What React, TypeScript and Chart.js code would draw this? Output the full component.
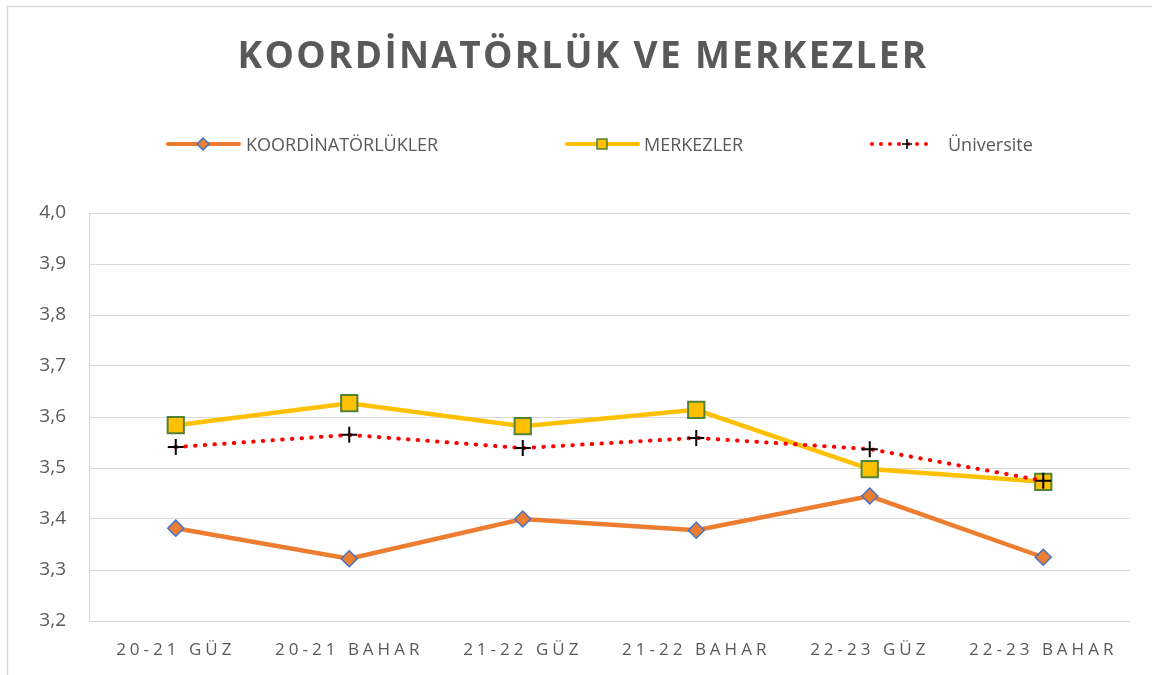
import React, { useEffect, useRef } from 'react';
import { Chart, registerables } from 'chart.js';

Chart.register(...registerables);

const TITLE = 'KOORDİNATÖRLÜK VE MERKEZLER';
const categories = ['20-21 GÜZ', '20-21 BAHAR', '21-22 GÜZ', '21-22 BAHAR', '22-23 GÜZ', '22-23 BAHAR'];
const koordinatorlukler = [3.382, 3.322, 3.4, 3.378, 3.445, 3.325];
const merkezler = [3.584, 3.627, 3.582, 3.614, 3.498, 3.473];
const universite = [3.541, 3.565, 3.539, 3.559, 3.537, 3.475];
const seriesLabels = ['KOORDİNATÖRLÜKLER', 'MERKEZLER', 'Üniversite'];
const yMin = 3.2;
const yMax = 4.0;
const yStep = 0.1;

const TEXT = '#595959';
const GRID = '#d9d9d9';
const ORANGE = '#ED7D31';
const BLUE = '#4472C4';
const GOLD = '#FFC000';
const GREEN = '#548235';
const RED = '#FF0000';

const decorPlugin = {
  id: 'decor',
  beforeDraw(chart: any) {
    const ctx = chart.ctx as CanvasRenderingContext2D;
    ctx.save();
    ctx.fillStyle = '#ffffff';
    ctx.fillRect(0, 0, chart.width, chart.height);
    // outer frame (top + left visible)
    ctx.strokeStyle = GRID;
    ctx.lineWidth = 1.3;
    ctx.beginPath();
    ctx.moveTo(7.5, chart.height);
    ctx.lineTo(7.5, 6.5);
    ctx.lineTo(chart.width, 6.5);
    ctx.stroke();
    ctx.restore();
  },
  afterDraw(chart: any) {
    const ctx = chart.ctx as CanvasRenderingContext2D;
    ctx.save();
    // title
    ctx.fillStyle = TEXT;
    ctx.font = 'bold 37px "Open Sans"';
    (ctx as any).letterSpacing = '2.3px';
    ctx.textAlign = 'center';
    ctx.textBaseline = 'alphabetic';
    ctx.fillText(TITLE, 583, 68);

    // x labels
    const xs = chart.scales.x;
    ctx.font = '17px "Open Sans"';
    (ctx as any).letterSpacing = '4px';
    ctx.textAlign = 'center';
    categories.forEach((c, i) => {
      ctx.fillText(c, xs.getPixelForTick(i), 655);
    });

    // legend
    (ctx as any).letterSpacing = '0px';
    ctx.font = '18px "Open Sans"';
    ctx.textAlign = 'left';
    const ly = 144;
    // KOORD
    ctx.lineCap = 'round';
    ctx.strokeStyle = ORANGE;
    ctx.lineWidth = 4;
    ctx.beginPath();
    ctx.moveTo(168, ly);
    ctx.lineTo(239, ly);
    ctx.stroke();
    ctx.fillStyle = ORANGE;
    ctx.strokeStyle = BLUE;
    ctx.lineWidth = 1.5;
    ctx.beginPath();
    ctx.moveTo(203, ly - 6);
    ctx.lineTo(209, ly);
    ctx.lineTo(203, ly + 6);
    ctx.lineTo(197, ly);
    ctx.closePath();
    ctx.fill();
    ctx.stroke();
    ctx.fillStyle = TEXT;
    ctx.fillText(seriesLabels[0], 246, ly + 6.5);

    // MERKEZLER
    ctx.strokeStyle = GOLD;
    ctx.lineWidth = 4;
    ctx.beginPath();
    ctx.moveTo(567, ly);
    ctx.lineTo(638, ly);
    ctx.stroke();
    ctx.fillStyle = GOLD;
    ctx.strokeStyle = GREEN;
    ctx.lineWidth = 1.5;
    ctx.fillRect(597, ly - 5, 10, 10);
    ctx.strokeRect(597, ly - 5, 10, 10);
    ctx.fillStyle = TEXT;
    ctx.fillText(seriesLabels[1], 644, ly + 6.5);

    // Üniversite
    ctx.fillStyle = RED;
    for (let x = 872; x <= 933; x += 9) {
      ctx.beginPath();
      ctx.arc(x, ly, 2, 0, Math.PI * 2);
      ctx.fill();
    }
    ctx.strokeStyle = '#000000';
    ctx.lineWidth = 1.6;
    ctx.lineCap = 'butt';
    ctx.beginPath();
    ctx.moveTo(902, ly);
    ctx.lineTo(912, ly);
    ctx.moveTo(907, ly - 5);
    ctx.lineTo(907, ly + 5);
    ctx.stroke();
    ctx.fillStyle = TEXT;
    ctx.fillText(seriesLabels[2], 948, ly + 6.5);
    ctx.restore();
  },
};

export default function App() {
  const ref = useRef<HTMLCanvasElement | null>(null);
  useEffect(() => {
    if (!ref.current) return;
    const chart = new Chart(ref.current, {
      type: 'line',
      data: {
        labels: categories,
        datasets: [
          {
            label: seriesLabels[0],
            data: koordinatorlukler,
            borderColor: ORANGE,
            borderWidth: 4.5,
            backgroundColor: ORANGE,
            pointStyle: 'rectRot',
            pointRadius: 8,
            pointBackgroundColor: ORANGE,
            pointBorderColor: BLUE,
            pointBorderWidth: 1.5,
            tension: 0,
            order: 2,
          },
          {
            label: seriesLabels[1],
            data: merkezler,
            borderColor: GOLD,
            borderWidth: 4.5,
            backgroundColor: GOLD,
            pointStyle: 'rect',
            pointRadius: 11.5,
            pointBackgroundColor: GOLD,
            pointBorderColor: GREEN,
            pointBorderWidth: 2,
            tension: 0,
            order: 1,
          },
          {
            label: seriesLabels[2],
            data: universite,
            borderColor: RED,
            borderWidth: 4,
            borderDash: [0.5, 9.2],
            borderCapStyle: 'round',
            backgroundColor: RED,
            pointStyle: 'cross',
            pointRadius: 8,
            pointBorderColor: '#000000',
            pointBorderWidth: 2,
            tension: 0,
            order: 0,
          },
        ],
      },
      options: {
        responsive: false,
        animation: false,
        devicePixelRatio: 1,
        layout: { padding: { top: 213, right: 22, left: 0, bottom: 0 } },
        plugins: {
          legend: { display: false },
          title: { display: false },
          tooltip: { enabled: false },
        },
        scales: {
          x: {
            type: 'category',
            offset: true,
            grid: { display: false },
            border: { display: false },
            ticks: { display: false },
            afterFit: (s: any) => {
              s.height = 54;
            },
          },
          y: {
            min: yMin,
            max: yMax,
            ticks: {
              stepSize: yStep,
              color: TEXT,
              padding: 23,
              font: { family: '"Open Sans"', size: 19 },
              callback: (v: any) => Number(v).toFixed(1).replace('.', ','),
            },
            grid: { color: GRID, lineWidth: 1, drawTicks: false },
            border: { display: true, color: GRID, width: 1 },
            afterFit: (s: any) => {
              s.width = 89;
            },
          },
        },
      },
      plugins: [decorPlugin],
    });
    return () => chart.destroy();
  }, []);
  return (
    <div style={{ position: 'absolute', left: 0, top: 0, width: 1152, height: 675 }}>
      <canvas ref={ref} width={1152} height={675} style={{ display: 'block', width: 1152, height: 675 }} />
    </div>
  );
}
